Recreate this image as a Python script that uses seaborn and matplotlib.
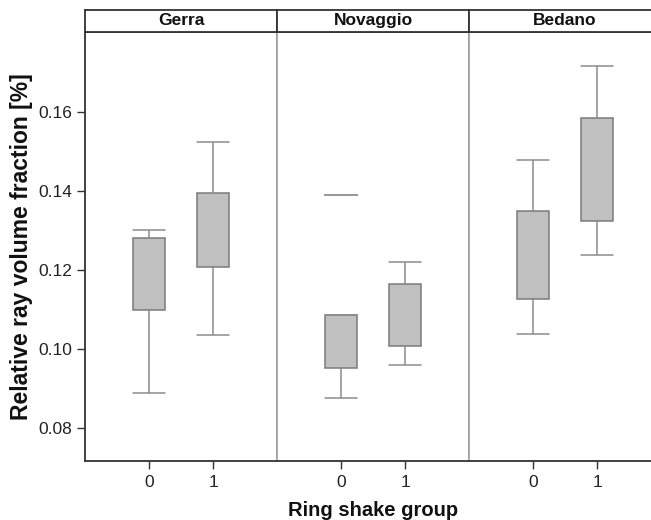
import numpy as np
import pandas as pd
import matplotlib
matplotlib.use("Agg")
import matplotlib.pyplot as plt
import matplotlib.ticker as mticker
import seaborn as sns

# ── Data ──────────────────────────────────────────────────────────────────────
sites = ["Gerra", "Novaggio", "Bedano"]
groups = ["0", "1"]

# five values per box: low, Q1, median (not drawn), Q3, high / outlier
gerra_0 = [0.0889, 0.1099, 0.1200, 0.1281, 0.1301]
gerra_1 = [0.1036, 0.1207, 0.1300, 0.1395, 0.1524]
novaggio_0 = [0.0876, 0.0951, 0.1000, 0.1087, 0.1390]
novaggio_1 = [0.0958, 0.1008, 0.1080, 0.1165, 0.1220]
bedano_0 = [0.1038, 0.1126, 0.1230, 0.1350, 0.1478]
bedano_1 = [0.1237, 0.1324, 0.1450, 0.1584, 0.1718]

y_ticks = [0.08, 0.10, 0.12, 0.14, 0.16]

sns.set_theme(style="white")
plt.rcParams["font.family"] = ["Liberation Sans", "DejaVu Sans"]

rows = []
for site, grp, vals in [("Gerra", "0", gerra_0), ("Gerra", "1", gerra_1),
                        ("Novaggio", "0", novaggio_0), ("Novaggio", "1", novaggio_1),
                        ("Bedano", "0", bedano_0), ("Bedano", "1", bedano_1)]:
    for v in vals:
        rows.append({"site": site, "group": grp, "value": v})
df = pd.DataFrame(rows)

W, H = 651, 520
FRAME = "#333333"
SEP = "#9a9a9a"
LINE = "#8c8c8c"
BOX_W = 0.5

g = sns.FacetGrid(df, col="site", col_order=sites, sharey=True,
                  height=5.2, aspect=0.42, despine=False)
g.map_dataframe(sns.boxplot, x="group", y="value", order=groups,
                width=BOX_W, saturation=1, color="#c0c0c0",
                boxprops=dict(facecolor="#c0c0c0", edgecolor="#7a7a7a", linewidth=1.1),
                whiskerprops=dict(color=LINE, linewidth=1.1),
                capprops=dict(color=LINE, linewidth=1.1),
                medianprops=dict(linewidth=0),
                flierprops=dict(marker="_", markersize=24,
                                markeredgecolor="#7a7a7a", markeredgewidth=1.1))

fig = g.figure
fig.set_size_inches(W / 100, H / 100)
fig.subplots_adjust(left=85 / W, right=661 / W, bottom=1 - 461 / H,
                    top=1 - 32 / H, wspace=0)

for i, ax in enumerate(g.axes.flat):
    # caps as wide as the boxes
    for ln in ax.lines:
        xd, yd = np.asarray(ln.get_xdata(), float), np.asarray(ln.get_ydata(), float)
        if len(xd) == 2 and yd[0] == yd[1] and 0 < abs(xd[1] - xd[0]) < BOX_W * 0.9:
            c = xd.mean()
            ln.set_xdata([c - BOX_W / 2, c + BOX_W / 2])

    ax.set_title("")
    ax.set_xlabel("")
    ax.set_ylabel("")
    ax.set_xlim(-1, 2)
    ax.set_ylim(0.0716, 0.1803)
    ax.set_yticks(y_ticks)
    ax.yaxis.set_major_formatter(mticker.FormatStrFormatter("%.2f"))
    ax.tick_params(axis="x", bottom=True, direction="out", length=6, width=1,
                   color=FRAME, labelsize=12.5, pad=4, labelcolor="#222222")
    ax.tick_params(axis="y", left=(i == 0), direction="out", length=6, width=1,
                   color=FRAME, labelsize=12.5, pad=3, labelcolor="#222222")
    for side in ["top", "bottom"]:
        ax.spines[side].set_color(FRAME)
        ax.spines[side].set_linewidth(1.3)
    ax.spines["left"].set_color(FRAME if i == 0 else SEP)
    ax.spines["left"].set_linewidth(1.3 if i == 0 else 1.1)
    ax.spines["right"].set_color(SEP)
    ax.spines["right"].set_linewidth(1.1)

    # strip header
    pos = ax.get_position()
    sax = fig.add_axes([pos.x0, pos.y1, pos.width, 22.5 / H])
    sax.set_xticks([])
    sax.set_yticks([])
    for s in sax.spines.values():
        s.set_color(FRAME)
        s.set_linewidth(1.3)
    sax.text(0.5, 0.5, sites[i], ha="center", va="center",
             fontsize=12.5, fontweight="bold", color="#111111",
             transform=sax.transAxes)

fig.text(373 / W, 1 - 510 / H, "Ring shake group", ha="center", va="center",
         fontsize=14.5, fontweight="bold", color="#111111")
fig.text(22 / W, 1 - 246.5 / H, "Relative ray volume fraction [%]", ha="center",
         va="center", rotation=90, fontsize=16.5, fontweight="bold", color="#111111")

fig.savefig("out.png", dpi=100)
